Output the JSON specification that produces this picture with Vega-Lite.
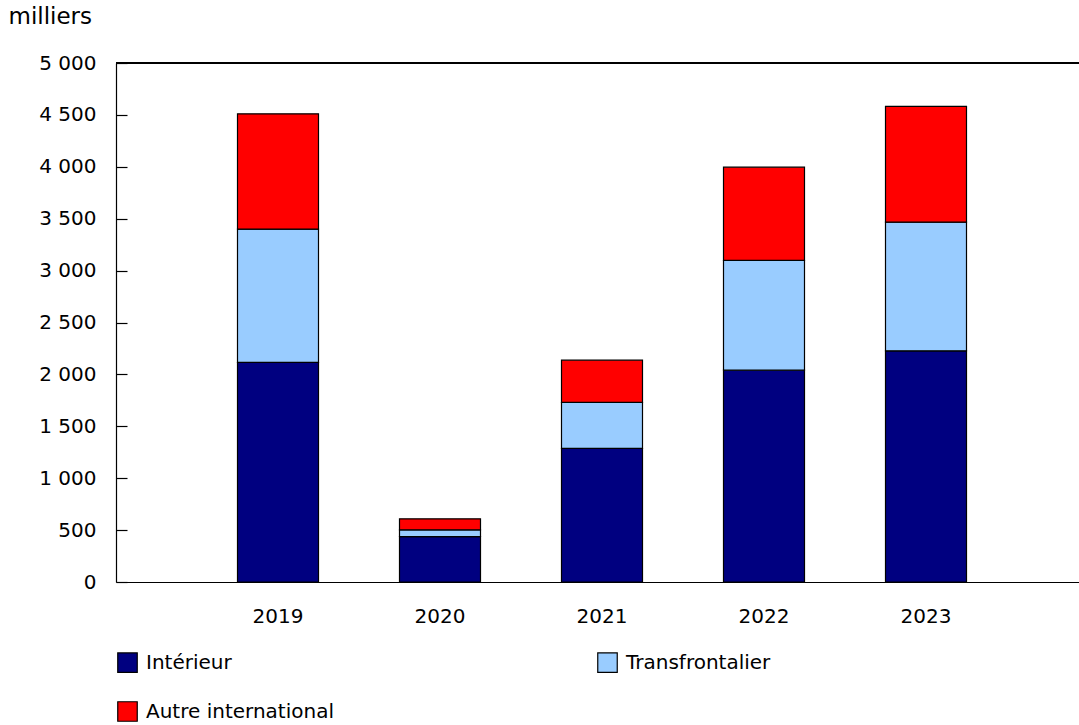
{
  "$schema": "https://vega.github.io/schema/vega-lite/v6.json",
  "width": 963,
  "height": 519,
  "autosize": {"type": "none"},
  "padding": {"left": 116, "top": 63, "right": 0, "bottom": 143},
  "background": "white",
  "config": {"view": {"stroke": null}, "font": "DejaVu Sans"},
  "data": {
    "values": [
      {"annee": "2019", "serie": "Intérieur", "rang": 1, "valeur": 2115},
      {"annee": "2019", "serie": "Transfrontalier", "rang": 2, "valeur": 1285},
      {"annee": "2019", "serie": "Autre international", "rang": 3, "valeur": 1110},
      {"annee": "2020", "serie": "Intérieur", "rang": 1, "valeur": 438},
      {"annee": "2020", "serie": "Transfrontalier", "rang": 2, "valeur": 65},
      {"annee": "2020", "serie": "Autre international", "rang": 3, "valeur": 106},
      {"annee": "2021", "serie": "Intérieur", "rang": 1, "valeur": 1288},
      {"annee": "2021", "serie": "Transfrontalier", "rang": 2, "valeur": 443},
      {"annee": "2021", "serie": "Autre international", "rang": 3, "valeur": 406},
      {"annee": "2022", "serie": "Intérieur", "rang": 1, "valeur": 2041},
      {"annee": "2022", "serie": "Transfrontalier", "rang": 2, "valeur": 1058},
      {"annee": "2022", "serie": "Autre international", "rang": 3, "valeur": 897},
      {"annee": "2023", "serie": "Intérieur", "rang": 1, "valeur": 2227},
      {"annee": "2023", "serie": "Transfrontalier", "rang": 2, "valeur": 1240},
      {"annee": "2023", "serie": "Autre international", "rang": 3, "valeur": 1116}
    ]
  },
  "layer": [
    {
      "mark": {"type": "bar", "stroke": "black", "strokeWidth": 1.2},
      "encoding": {
        "x": {
          "field": "annee",
          "type": "ordinal",
          "scale": {"range": [0, 972], "paddingInner": 0.5, "paddingOuter": 0.75},
          "axis": {
            "title": null,
            "labelAngle": 0,
            "ticks": false,
            "labelPadding": 24,
            "labelFontSize": 20,
            "labelColor": "black",
            "domainColor": "black",
            "domainWidth": 1.2
          }
        },
        "y": {
          "field": "valeur",
          "type": "quantitative",
          "stack": "zero",
          "scale": {"domain": [0, 5000], "nice": false},
          "axis": {
            "values": [0, 500, 1000, 1500, 2000, 2500, 3000, 3500, 4000, 4500, 5000],
            "labelExpr": "replace(format(datum.value, ','), ',', ' ')",
            "grid": false,
            "tickSize": -11,
            "tickColor": "black",
            "tickWidth": 1.2,
            "labelPadding": 31,
            "labelFontSize": 20,
            "labelColor": "black",
            "domainColor": "black",
            "domainWidth": 1.2,
            "title": "milliers",
            "titleAngle": 0,
            "titleAlign": "left",
            "titleBaseline": "alphabetic",
            "titleX": -108,
            "titleY": -40,
            "titleFontSize": 23,
            "titleFontWeight": "normal",
            "titleColor": "black"
          }
        },
        "color": {
          "field": "serie",
          "type": "nominal",
          "scale": {
            "domain": ["Intérieur", "Autre international", "Transfrontalier"],
            "range": ["#000080", "#FF0000", "#99CCFF"]
          },
          "legend": {
            "title": null,
            "orient": "none",
            "legendX": 1,
            "legendY": 589,
            "columns": 2,
            "columnPadding": 261,
            "rowPadding": 24,
            "symbolType": "square",
            "symbolSize": 380,
            "symbolStrokeColor": "black",
            "symbolStrokeWidth": 1.2,
            "labelFontSize": 20,
            "labelColor": "black",
            "labelOffset": 8,
            "labelLimit": 0
          }
        },
        "order": {"field": "rang", "type": "quantitative"}
      }
    },
    {
      "mark": {"type": "rule", "color": "black", "strokeWidth": 1.2},
      "encoding": {"y": {"datum": 5000}}
    }
  ]
}
